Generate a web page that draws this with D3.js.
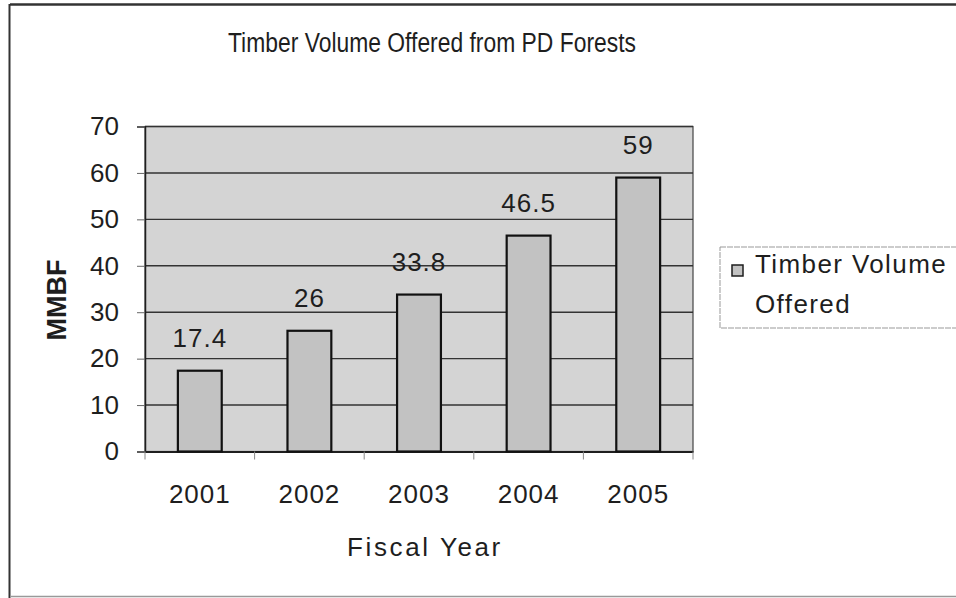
<!DOCTYPE html>
<html>
<head>
<meta charset="utf-8">
<script src="https://cdn.jsdelivr.net/npm/d3@7"></script>
<style>
  body { margin: 0; background: #fff; }
  svg { display: block; font-family: "Liberation Sans", Arial, sans-serif; }
</style>
</head>
<body>
<svg id="chart" width="956" height="598"></svg>
<script>
// chart data
const years = ["2001", "2002", "2003", "2004", "2005"];
const volumes = [17.4, 26, 33.8, 46.5, 59];
const yTicks = [0, 10, 20, 30, 40, 50, 60, 70];
const seriesName = ["Timber Volume", "Offered"];

const svg = d3.select("#chart");
const ink = "#1e1e1e";

// outer frame
svg.append("line").attr("x1", 10).attr("x2", 956).attr("y1", 4.5).attr("y2", 4.5)
  .attr("stroke", "#333").attr("stroke-width", 2.5);
svg.append("line").attr("x1", 9.5).attr("x2", 9.5).attr("y1", 4).attr("y2", 598)
  .attr("stroke", "#333").attr("stroke-width", 2);
svg.append("line").attr("x1", 10).attr("x2", 956).attr("y1", 596.5).attr("y2", 596.5)
  .attr("stroke", "#999").attr("stroke-width", 1.5);

// plot area
const margin = { left: 145, top: 126.5, right: 693, bottom: 451.5 };

const x = d3.scaleBand().domain(years).range([margin.left, margin.right]).paddingInner(0.6).paddingOuter(0.3);
const xb = d3.scaleBand().domain(years).range([margin.left, margin.right]);
const y = d3.scaleLinear().domain([0, 70]).range([margin.bottom, margin.top]);

svg.append("rect")
  .attr("x", margin.left).attr("y", margin.top)
  .attr("width", margin.right - margin.left).attr("height", margin.bottom - margin.top)
  .attr("fill", "#d4d4d4").attr("stroke", "#444").attr("stroke-width", 1.2);

// gridlines
svg.append("g")
  .selectAll("line")
  .data(yTicks.filter(d => d > 0))
  .join("line")
  .attr("x1", margin.left).attr("x2", margin.right)
  .attr("y1", d => y(d)).attr("y2", d => y(d))
  .attr("stroke", "#333").attr("stroke-width", 1.4);

// y axis
const yAxis = svg.append("g")
  .attr("transform", `translate(${margin.left},0)`)
  .call(d3.axisLeft(y).tickValues(yTicks).tickSize(8).tickPadding(18));
yAxis.select(".domain").attr("stroke", ink).attr("stroke-width", 1.5);
yAxis.selectAll(".tick line").attr("stroke", "#666");
yAxis.selectAll("text").attr("font-size", 26).attr("fill", ink)
  .attr("font-family", "Liberation Sans, Arial, sans-serif");

// x axis
const xAxis = svg.append("g")
  .attr("transform", `translate(0,${margin.bottom})`)
  .call(d3.axisBottom(xb).tickSize(0).tickPadding(33));
xAxis.select(".domain").attr("stroke", ink).attr("stroke-width", 2);
xAxis.selectAll("text").attr("font-size", 26).attr("fill", ink)
  .attr("letter-spacing", 1)
  .attr("font-family", "Liberation Sans, Arial, sans-serif");
svg.append("g")
  .selectAll("line")
  .data(years.concat(["end"]))
  .join("line")
  .attr("x1", (d, i) => margin.left + i * xb.bandwidth())
  .attr("x2", (d, i) => margin.left + i * xb.bandwidth())
  .attr("y1", margin.bottom).attr("y2", margin.bottom + 8)
  .attr("stroke", "#888");

// bars
svg.append("g")
  .selectAll("rect")
  .data(volumes)
  .join("rect")
  .attr("x", (d, i) => x(years[i]))
  .attr("y", d => y(d))
  .attr("width", x.bandwidth())
  .attr("height", d => margin.bottom - y(d))
  .attr("fill", "#c2c2c2")
  .attr("stroke", "#111")
  .attr("stroke-width", 2.2);

// value labels
svg.append("g")
  .selectAll("text")
  .data(volumes)
  .join("text")
  .attr("x", (d, i) => x(years[i]) + x.bandwidth() / 2)
  .attr("y", d => y(d) - 24)
  .attr("text-anchor", "middle")
  .attr("font-size", 26)
  .attr("letter-spacing", 1)
  .attr("fill", ink)
  .text(d => d);

// title
svg.append("text")
  .attr("x", 228).attr("y", 52)
  .attr("font-size", 27)
  .attr("textLength", 408)
  .attr("lengthAdjust", "spacingAndGlyphs")
  .attr("fill", ink)
  .text("Timber Volume Offered from PD Forests");

// axis titles
svg.append("text")
  .attr("transform", "translate(66,300) rotate(-90)")
  .attr("text-anchor", "middle")
  .attr("font-size", 27)
  .attr("font-weight", "bold")
  .attr("fill", ink)
  .text("MMBF");

svg.append("text")
  .attr("x", 425).attr("y", 556)
  .attr("text-anchor", "middle")
  .attr("font-size", 26)
  .attr("letter-spacing", 2.6)
  .attr("fill", ink)
  .text("Fiscal Year");

// legend
const legend = svg.append("g");
legend.append("rect")
  .attr("x", 720).attr("y", 247).attr("width", 250).attr("height", 81)
  .attr("fill", "#fff").attr("stroke", "#999").attr("stroke-width", 1)
  .attr("stroke-dasharray", "6,1");
legend.append("rect")
  .attr("x", 732).attr("y", 265).attr("width", 11).attr("height", 11)
  .attr("fill", "#c2c2c2").attr("stroke", ink).attr("stroke-width", 1.5);
legend.selectAll("text.lg")
  .data(seriesName)
  .join("text")
  .attr("class", "lg")
  .attr("x", 755)
  .attr("y", (d, i) => 273 + i * 40)
  .attr("font-size", 26)
  .attr("letter-spacing", 1.4)
  .attr("fill", ink)
  .text(d => d);
</script>
</body>
</html>
